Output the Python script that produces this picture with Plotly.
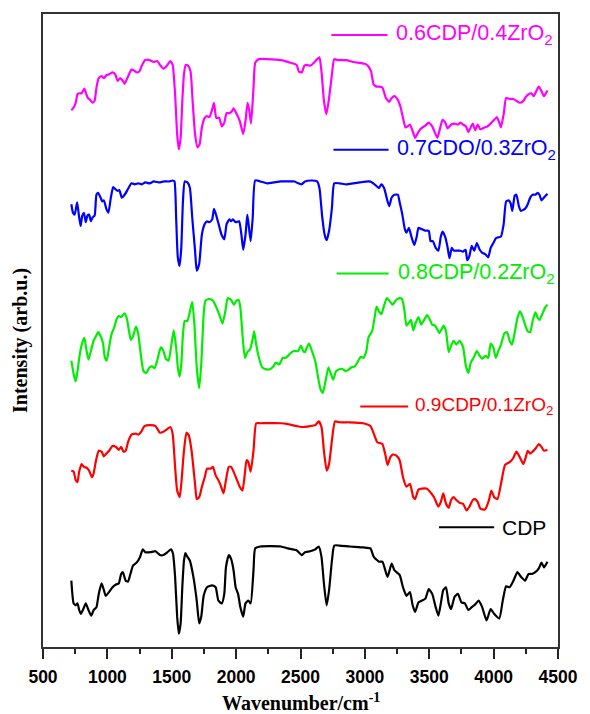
import plotly.graph_objects as go

# ---------------- data (wavenumber cm^-1, intensity a.u. incl. vertical stacking) -------------
cdp_wn = [720,738,754,768,781,794,813,832,853,875,
          893,915,933,955,973,987,1013,1040,1067,1088,
          1107,1120,1142,1160,1179,1200,1227,1254,1275,1294,
          1334,1374,1408,1435,1467,1494,1510,1526,1542,1555,
          1569,1582,1595,1606,1622,1641,1668,1694,1713,1729,
          1748,1774,1814,1841,1862,1889,1908,1921,1943,1961,
          1980,1996,2015,2033,2055,2073,2095,2113,2135,2148,
          2188,2348,2402,2469,2509,2535,2575,2615,2642,2663,
          2682,2703,2722,2744,2762,2802,2882,2989,3043,3069,
          3109,3136,3176,3208,3229,3270,3296,3323,3350,3371,
          3390,3416,3443,3470,3496,3523,3550,3571,3590,3609,
          3630,3651,3670,3697,3723,3750,3777,3804,3830,3857,
          3884,3911,3945,3977,4004,4044,4071,4097,4124,4151,
          4185,4212,4244,4271,4297,4324,4351,4372,4391,4418]
cdp_int = [66,42,40,42,35,31,36,42,35,29,
           35,38,52,63,56,50,54,59,62,63,
           73,75,66,65,73,82,85,91,99,96,
           96,97,93,93,96,99,94,70,28,10,
           21,59,87,95,91,87,70,45,21,28,
           50,59,61,59,45,42,52,80,93,89,
           77,59,52,38,28,42,45,42,77,100,
           102,102,100,98,93,96,97,99,102,91,
           63,40,56,87,103,103,102,101,100,91,
           86,86,70,84,77,72,59,50,54,40,
           33,43,45,47,57,52,38,29,42,56,
           59,42,36,49,52,43,42,35,38,41,
           45,38,24,36,31,26,45,60,59,65,
           75,70,66,73,73,75,79,85,80,86]

r91_wn = [720,738,754,768,781,800,818,840,858,880,
          893,912,933,955,973,992,1013,1040,1067,1088,
          1107,1125,1142,1160,1187,1222,1240,1267,1288,1334,
          1374,1408,1435,1467,1489,1507,1526,1542,1561,1574,
          1595,1614,1633,1654,1681,1694,1713,1734,1756,1774,
          1801,1820,1841,1862,1881,1902,1921,1943,1961,1980,
          2001,2028,2049,2068,2081,2095,2113,2135,2156,2188,
          2348,2402,2469,2509,2575,2615,2642,2663,2682,2703,
          2722,2744,2768,2802,2882,2989,3043,3069,3096,3117,
          3136,3157,3176,3197,3216,3243,3270,3296,3323,3350,
          3376,3390,3416,3443,3483,3510,3537,3571,3590,3609,
          3630,3651,3670,3689,3710,3737,3763,3790,3812,3838,
          3857,3876,3897,3932,3964,3982,4004,4030,4057,4089,
          4124,4151,4177,4204,4231,4249,4265,4284,4303,4324,
          4351,4372,4391,4418]
r91_int = [176,175,166,164,175,183,180,179,176,169,
           173,187,197,196,191,194,197,202,201,198,
           201,196,197,206,214,215,214,218,223,224,
           223,216,217,220,222,215,180,155,148,162,
           197,216,213,197,162,146,148,159,169,178,
           178,180,171,166,160,152,166,180,180,175,
           168,159,155,173,187,185,175,197,226,226,
           226,225,223,222,223,224,228,222,197,176,
           183,208,228,227,227,226,223,215,206,205,
           204,194,182,190,193,192,187,169,159,162,
           148,146,156,157,157,153,148,138,143,152,
           141,137,145,148,145,142,141,134,138,145,
           146,143,136,135,145,155,148,146,162,182,
           185,189,196,190,183,190,197,194,196,199,
           204,201,197,198]

g82_wn = [720,738,754,768,786,805,821,834,853,875,
          893,912,928,947,965,981,995,1013,1032,1053,
          1072,1088,1107,1134,1152,1168,1182,1200,1222,1240,
          1259,1280,1302,1328,1347,1366,1387,1414,1433,1454,
          1475,1494,1515,1534,1547,1561,1574,1587,1601,1622,
          1641,1659,1676,1694,1713,1729,1748,1761,1788,1814,
          1841,1868,1894,1916,1935,1961,1983,2001,2020,2033,
          2049,2068,2087,2108,2129,2140,2156,2177,2202,2228,
          2263,2290,2308,2335,2362,2388,2415,2442,2482,2503,
          2522,2535,2549,2567,2589,2615,2637,2655,2674,2695,
          2717,2736,2754,2776,2802,2829,2850,2869,2896,2922,
          2949,2968,2989,3011,3029,3056,3075,3091,3109,3128,
          3149,3171,3197,3216,3243,3270,3288,3304,3323,3342,
          3358,3376,3395,3416,3438,3456,3483,3502,3523,3545,
          3563,3577,3595,3611,3630,3651,3670,3689,3710,3737,
          3763,3785,3804,3822,3844,3870,3892,3910,3937,3958,
          3977,3998,4017,4036,4057,4084,4105,4124,4143,4164,
          4185,4204,4223,4244,4265,4284,4303,4324,4343,4356,
          4378,4399,4418]
g82_int = [286,272,264,275,293,305,310,300,287,298,
           307,312,316,312,305,289,286,300,314,321,
           330,333,332,336,330,317,308,312,322,314,
           293,275,273,279,280,278,286,300,297,288,
           286,300,318,300,279,269,282,314,328,328,
           338,348,324,279,257,282,335,349,351,350,
           344,335,325,338,352,350,345,349,350,342,
           314,289,295,298,309,317,303,289,279,277,
           277,280,284,282,289,289,293,296,296,302,
           296,295,300,304,296,285,268,256,252,265,
           279,272,266,275,277,277,275,276,279,280,
           286,290,289,296,311,317,331,343,338,335,
           344,352,348,345,350,352,351,342,323,326,
           329,318,326,332,324,328,334,330,324,323,
           319,315,319,323,317,295,302,307,303,307,
           300,280,273,284,289,296,291,288,291,289,
           304,300,289,296,303,315,316,307,303,316,
           331,338,333,324,317,316,328,337,331,329,
           335,342,345]

b73_wn = [720,733,746,765,778,792,805,818,832,845,
          858,872,885,901,915,928,947,960,973,992,
          1008,1027,1045,1061,1080,1093,1112,1134,1160,1187,
          1214,1240,1267,1294,1328,1360,1400,1441,1481,1507,
          1521,1534,1547,1561,1574,1587,1601,1622,1641,1659,
          1681,1694,1713,1734,1756,1774,1793,1814,1828,1846,
          1868,1886,1908,1926,1948,1961,1975,1996,2023,2041,
          2055,2073,2087,2100,2113,2129,2148,2188,2242,2295,
          2348,2402,2455,2482,2509,2535,2589,2629,2647,2669,
          2687,2703,2722,2744,2762,2802,2856,2909,2962,3029,
          3056,3083,3109,3128,3149,3176,3189,3208,3229,3256,
          3270,3291,3310,3323,3342,3363,3384,3403,3416,3438,
          3470,3496,3510,3528,3550,3571,3590,3603,3625,3643,
          3657,3675,3691,3710,3737,3763,3782,3795,3811,3830,
          3849,3870,3892,3910,3937,3958,3977,3998,4017,4036,
          4057,4078,4097,4116,4132,4145,4164,4177,4196,4212,
          4231,4249,4265,4284,4303,4324,4343,4356,4372,4391,
          4418]
b73_int = [444,435,433,446,433,421,432,435,425,432,
           433,426,430,432,454,456,451,447,448,439,
           435,451,462,460,458,459,451,454,460,466,
           465,466,465,467,466,468,467,468,468,469,
           468,430,388,379,398,447,468,467,461,430,
           395,374,381,412,423,426,425,428,439,432,
           421,412,407,423,428,426,428,425,426,412,
           396,412,433,419,405,430,469,468,466,467,
           468,468,468,466,465,468,469,468,461,430,
           412,406,416,440,466,466,465,466,467,468,
           467,464,461,465,461,447,442,451,454,454,
           446,433,418,414,419,409,401,410,419,418,
           416,416,405,405,398,395,410,415,409,398,
           387,398,395,395,395,394,396,385,389,400,
           395,403,396,393,391,388,398,403,408,409,
           410,423,447,448,445,437,453,454,442,437,
           438,440,444,451,454,454,456,454,448,451,
           455]

m64_wn = [720,738,754,768,781,800,821,834,848,866,
          885,901,915,933,955,973,992,1013,1040,1061,
          1080,1099,1120,1134,1152,1168,1187,1206,1227,1248,
          1267,1294,1328,1360,1387,1408,1435,1462,1489,1507,
          1526,1542,1555,1569,1582,1595,1609,1627,1646,1662,
          1681,1700,1716,1734,1756,1774,1793,1814,1828,1846,
          1868,1889,1908,1926,1948,1967,1980,2001,2028,2055,
          2073,2089,2103,2116,2135,2148,2175,2242,2348,2428,
          2469,2487,2509,2530,2549,2575,2602,2629,2647,2663,
          2682,2701,2722,2744,2762,2789,2856,2909,2962,3003,
          3029,3048,3069,3091,3109,3136,3163,3189,3208,3229,
          3256,3278,3296,3315,3331,3350,3371,3390,3411,3430,
          3448,3470,3496,3523,3545,3563,3582,3603,3625,3643,
          3670,3697,3723,3742,3763,3785,3804,3822,3838,3857,
          3876,3897,3929,3950,3977,4004,4025,4044,4057,4078,
          4097,4124,4151,4177,4204,4231,4249,4271,4292,4311,
          4330,4351,4372,4391,4418]
m64_int = [535,538,543,552,553,553,558,553,548,546,
           543,545,559,569,571,569,572,573,575,573,
           566,569,566,563,568,573,578,577,575,576,
           582,588,588,586,587,583,579,582,587,583,
           552,510,494,506,545,573,583,582,576,545,
           510,496,499,517,527,529,528,536,543,527,
           527,518,522,532,532,534,537,532,524,510,
           524,543,534,521,559,585,589,589,588,585,
           583,576,575,582,583,582,585,589,591,576,
           545,531,548,573,589,588,588,586,585,584,
           581,576,562,560,560,559,548,544,548,550,
           546,538,527,517,518,520,513,506,511,515,
           517,519,522,518,511,506,515,525,522,516,
           520,521,520,522,520,518,512,517,521,514,
           520,515,517,518,521,525,528,522,517,531,
           548,547,547,545,543,545,549,552,553,550,
           555,560,555,550,556]

# baseline correction of each stacked spectrum (a.u.)
stack_shift = [27, 21, 15, 8, 0]

series_names = ["CDP", "0.9CDP/0.1ZrO<sub>2</sub>", "0.8CDP/0.2ZrO<sub>2</sub>",
                "0.7CDO/0.3ZrO<sub>2</sub>", "0.6CDP/0.4ZrO<sub>2</sub>"]
series_colors = ["#000000", "#FF0000", "#00EE00", "#0000FF", "#FF00FF"]
series_x = [cdp_wn, r91_wn, g82_wn, b73_wn, m64_wn]
series_y = [cdp_int, r91_int, g82_int, b73_int, m64_int]

x_ticks = [500, 1000, 1500, 2000, 2500, 3000, 3500, 4000, 4500]

# legend-line placement (paper coords): x0, x1, y, text x, font size
legend_pos = [
    (0.769, 0.876, 0.189, 0.887, 21),
    (0.616, 0.709, 0.380, 0.719, 19),
    (0.570, 0.671, 0.590, 0.686, 21.5),
    (0.564, 0.671, 0.7855, 0.683, 21.5),
    (0.560, 0.669, 0.967, 0.681, 21.5),
]

fig = go.Figure()
for xs, ys, sh, name, col in zip(series_x, series_y, stack_shift, series_names, series_colors):
    fig.add_trace(go.Scatter(x=xs, y=[v - sh for v in ys], mode="lines", name=name,
                             line=dict(color=col, width=2.2, shape="spline", smoothing=0.5),
                             showlegend=False, hoverinfo="skip"))

shapes = []
annotations = []
for (x0, x1, yy, tx, fs), name, col in zip(legend_pos, series_names, series_colors):
    shapes.append(dict(type="line", xref="paper", yref="paper", x0=x0, x1=x1, y0=yy, y1=yy,
                       line=dict(color=col, width=2)))
    annotations.append(dict(xref="paper", yref="paper", x=tx, y=yy, text=name, showarrow=False,
                            xanchor="left", yanchor="middle",
                            font=dict(family="Liberation Sans, Arial", size=fs, color=col)))

annotations.append(dict(xref="paper", yref="paper", x=0.5, y=-0.087,
                        text="<b>Wavenumber/cm<sup>-1</sup></b>", showarrow=False,
                        xanchor="center", yanchor="middle",
                        font=dict(family="Liberation Serif, Times New Roman", size=20, color="#000")))
annotations.append(dict(xref="paper", yref="paper", x=-0.044, y=0.484,
                        text="<b>Intensity (arb.u.)</b>", showarrow=False, textangle=-90,
                        xanchor="center", yanchor="middle",
                        font=dict(family="Liberation Serif, Times New Roman", size=20, color="#000")))

fig.update_layout(
    width=590, height=714,
    margin=dict(l=43, r=24, t=13, b=67),
    paper_bgcolor="white", plot_bgcolor="white",
    shapes=shapes, annotations=annotations,
)
fig.update_xaxes(range=[500, 4500], tickvals=x_ticks, ticktext=[str(v) for v in x_ticks],
                 ticks="outside", ticklen=10, tickwidth=2, tickcolor="#222",
                 minor=dict(ticks="outside", ticklen=5, tickwidth=2, tickcolor="#222", dtick=250, tick0=500),
                 showline=True, linecolor="#333", linewidth=2, mirror=True,
                 showgrid=False, zeroline=False, ticklabelstandoff=3,
                 tickfont=dict(family="Liberation Sans, Arial", size=17.5, color="#000", weight="bold"))
fig.update_yaxes(range=[-31, 636.6], showticklabels=False, ticks="",
                 showline=True, linecolor="#333", linewidth=2, mirror=True,
                 showgrid=False, zeroline=False)

fig.write_html("out.html")
